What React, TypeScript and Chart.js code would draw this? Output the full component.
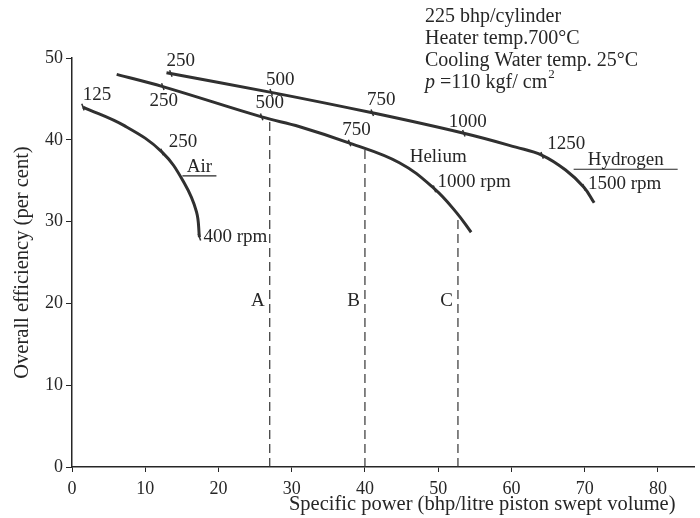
import React, { useEffect, useRef } from "react";
import { Chart, registerables } from "chart.js";
Chart.register(...registerables);

// Curves (specific power, efficiency)
const airPower = [1.5, 7.2, 12.3, 15.4, 17.0, 17.4];
const airEff = [44.0, 41.7, 38.5, 34.6, 31.2, 28.1];
const heliumPower = [6.1, 12.4, 25.9, 31.1, 37.9, 44.7, 49.5, 52.5, 54.5];
const heliumEff = [48.0, 46.5, 42.8, 41.6, 39.6, 37.2, 34.0, 31.1, 28.7];
const hydrogenPower = [12.9, 27.2, 41.0, 53.5, 60.6, 64.2, 67.4, 69.9, 71.3];
const hydrogenEff = [48.2, 45.8, 43.3, 40.8, 39.1, 38.1, 36.3, 34.2, 32.3];

// rpm marks
const airRpm = [125, 250, 400];
const airRpmPower = [1.5, 12.3, 17.4];
const airRpmEff = [44.0, 38.5, 28.1];
const heliumRpm = [250, 500, 750, 1000];
const heliumRpmPower = [12.4, 25.9, 37.9, 49.5];
const heliumRpmEff = [46.5, 42.8, 39.6, 34.0];
const hydrogenRpm = [250, 500, 750, 1000, 1250, 1500];
const hydrogenRpmPower = [13.5, 27.2, 41.0, 53.5, 64.2, 69.9];
const hydrogenRpmEff = [48.1, 45.8, 43.3, 40.8, 38.1, 34.2];

// dashed verticals
const dashedLetters = ["A", "B", "C"];
const dashedPower = [27.0, 40.0, 52.7];
const dashedTop = [42.7, 38.8, 30.8];

const xTicks = [0, 10, 20, 30, 40, 50, 60, 70, 80];
const yTicks = [0, 10, 20, 30, 40, 50];

const xTitle = "Specific power (bhp/litre piston swept volume)";
const yTitle = "Overall efficiency (per cent)";
const notes = ["225 bhp/cylinder", "Heater temp.700\u00B0C", "Cooling Water temp. 25\u00B0C"];

const FONT = "'Liberation Serif', 'DejaVu Serif', serif";
const INK = "#262626";
const LBL = 19;

const pts = (xs: number[], ys: number[]) => xs.map((x, i) => ({ x, y: ys[i] }));

// pixel offsets of rpm labels from their marks [dx, dy, align]
const airOff: [number, number, CanvasTextAlign][] = [[14, -12, "center"], [21, -10, "center"], [4, 0, "left"]];
const heOff: [number, number, CanvasTextAlign][] = [[1, 14, "center"], [8, -14, "center"], [7, -13, "center"], [3, -7, "left"]];
const hyOff: [number, number, CanvasTextAlign][] = [[10, -13, "center"], [9, -12, "center"], [9, -13, "center"], [4, -11, "center"], [24, -11, "center"], [4, -3, "left"]];

export default function App() {
  const ref = useRef<HTMLCanvasElement>(null);
  useEffect(() => {
    document.body.style.margin = "0";
    const curve = (xs: number[], ys: number[]) => ({
      type: "line" as const,
      data: pts(xs, ys),
      borderColor: "#303030",
      borderWidth: 3,
      pointRadius: 0,
      tension: 0.4,
      fill: false,
    });
    const marks = (xs: number[], ys: number[]) => ({
      type: "scatter" as const,
      data: pts(xs, ys),
      pointStyle: "line" as const,
      pointRadius: 3.5,
      pointRotation: 70,
      borderColor: "#303030",
      borderWidth: 1.5,
      showLine: false,
    });
    const dashed = dashedPower.map((p, i) => ({
      type: "line" as const,
      data: [{ x: p, y: 0 }, { x: p, y: dashedTop[i] }],
      borderColor: "#333",
      borderWidth: 1.2,
      borderDash: [9, 5],
      pointRadius: 0,
      fill: false,
    }));

    const textPlugin = {
      id: "texts",
      afterDatasetsDraw(chart: any) {
        const ctx = chart.ctx as CanvasRenderingContext2D;
        const xs = chart.scales.x, ys = chart.scales.y;
        ctx.save();
        ctx.fillStyle = INK;
        ctx.strokeStyle = INK;
        ctx.font = `${LBL}px ${FONT}`;
        ctx.textBaseline = "middle";
        const put = (rpm: number[], px: number[], py: number[], off: [number, number, CanvasTextAlign][]) => {
          rpm.forEach((r, i) => {
            const last = i === rpm.length - 1;
            const [dx, dy, al] = off[i];
            ctx.textAlign = al;
            ctx.fillText(last ? `${r} rpm` : `${r}`, xs.getPixelForValue(px[i]) + dx, ys.getPixelForValue(py[i]) + dy);
          });
        };
        put(airRpm, airRpmPower, airRpmEff, airOff);
        put(heliumRpm, heliumRpmPower, heliumRpmEff, heOff);
        put(hydrogenRpm, hydrogenRpmPower, hydrogenRpmEff, hyOff);

        // gas names
        ctx.textAlign = "center";
        const name = (t: string, x: number, y: number, ul?: [number, number]) => {
          const X = xs.getPixelForValue(x), Y = ys.getPixelForValue(y);
          ctx.fillText(t, X, Y);
          if (ul) {
            ctx.lineWidth = 1.2;
            ctx.beginPath();
            ctx.moveTo(X + ul[0], Y + 9);
            ctx.lineTo(X + ul[1], Y + 9);
            ctx.stroke();
          }
        };
        name("Air", 17.4, 36.7, [-17, 17]);
        name("Helium", 50.0, 37.9);
        name("Hydrogen", 75.6, 37.5, [-52, 52]);

        // dashed letters
        ctx.textAlign = "right";
        dashedLetters.forEach((l, i) => {
          ctx.fillText(l, xs.getPixelForValue(dashedPower[i]) - 5, ys.getPixelForValue(20.3));
        });

        // x axis title
        ctx.textAlign = "right";
        ctx.font = `20.5px ${FONT}`;
        ctx.fillText(xTitle, chart.chartArea.right - 19, 505);

        // notes top right
        ctx.textAlign = "left";
        ctx.font = `20px ${FONT}`;
        const nx = 425;
        notes.forEach((n, i) => ctx.fillText(n, nx, 17 + i * 22));
        ctx.font = `italic 20px ${FONT}`;
        ctx.fillText("p", nx, 83);
        const pw = ctx.measureText("p").width;
        ctx.font = `20px ${FONT}`;
        const rest = " =110 kgf/ cm";
        ctx.fillText(rest, nx + pw, 83);
        const rw = ctx.measureText(rest).width;
        ctx.font = `13px ${FONT}`;
        ctx.fillText("2", nx + pw + rw + 1, 75);
        ctx.restore();
      },
    };

    const chart = new Chart(ref.current!, {
      type: "line",
      data: {
        datasets: [
          curve(airPower, airEff),
          curve(heliumPower, heliumEff),
          curve(hydrogenPower, hydrogenEff),
          marks(airRpmPower, airRpmEff),
          marks(heliumRpmPower, heliumRpmEff),
          marks(hydrogenRpmPower, hydrogenRpmEff),
          ...dashed,
        ] as any,
      },
      options: {
        responsive: false,
        animation: false,
        layout: { padding: { top: 58, right: 4, left: 0, bottom: 0 } },
        plugins: { legend: { display: false }, tooltip: { enabled: false } },
        scales: {
          x: {
            type: "linear",
            min: 0,
            max: 85,
            afterBuildTicks: (s: any) => { s.ticks = xTicks.map((v) => ({ value: v })); },
            afterFit: (s: any) => { s.height = 51; },
            ticks: { color: INK, font: { family: FONT, size: 18 }, padding: 6, maxRotation: 0 },
            grid: { drawOnChartArea: false, drawTicks: true, tickLength: 5, color: INK },
            border: { color: INK, width: 1.5 },
            title: { display: false },
          },
          y: {
            type: "linear",
            min: 0,
            max: 50,
            afterBuildTicks: (s: any) => { s.ticks = yTicks.map((v) => ({ value: v })); },
            afterFit: (s: any) => { s.width = 72; },
            ticks: { color: INK, font: { family: FONT, size: 18 }, padding: 3 },
            grid: { drawOnChartArea: false, drawTicks: true, tickLength: 6, color: INK },
            border: { color: INK, width: 1.5 },
            title: {
              display: true,
              text: yTitle,
              color: INK,
              font: { family: FONT, size: 20.5 },
              padding: { top: 10, bottom: 4 },
            },
          },
        },
      } as any,
      plugins: [textPlugin],
    });
    return () => chart.destroy();
  }, []);
  return <canvas ref={ref} width={700} height={518} style={{ display: "block" }} />;
}
